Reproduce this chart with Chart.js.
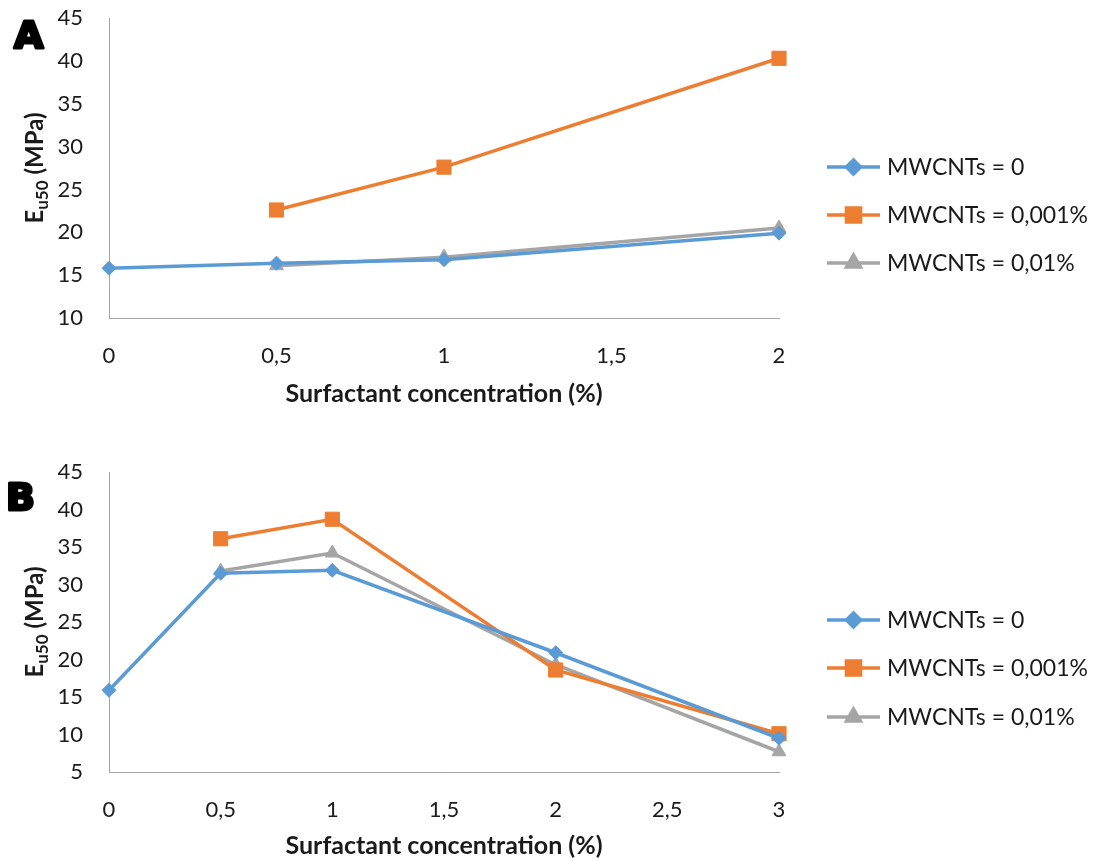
<!DOCTYPE html>
<html><head><meta charset="utf-8">
<script src="https://cdn.jsdelivr.net/npm/chart.js@4.4.0/dist/chart.umd.min.js"></script>
<style>
body{margin:0;background:#fff;width:1096px;height:861px;position:relative;overflow:hidden}
.panel{position:absolute;left:0;width:1096px}
</style></head><body>
<div class="panel" style="top:-24px;height:431px"><canvas id="chartA" width="1096" height="431"></canvas></div>
<div class="panel" style="top:430px;height:431px"><canvas id="chartB" width="1096" height="431"></canvas></div>
<script>
const seriesNames=["MWCNTs = 0","MWCNTs = 0,001%","MWCNTs = 0,01%"];
const colors=["#5B9BD5","#ED7D31","#A5A5A5"];
const shapes=["rectRot","rect","triangle"];
const radii=[7,10,8];

// panel A
const xA=[0,0.5,1,2];
const mw0A=[15.8,16.4,16.8,19.9];
const mw001A=[null,22.6,27.6,40.3];
const mw01A=[null,16.1,17.1,20.5];
const xTicksA=[0,0.5,1,1.5,2];
const yTicksA=[10,15,20,25,30,35,40,45];

// panel B
const xB=[0,0.5,1,2,3];
const mw0B=[15.9,31.5,31.9,20.9,9.5];
const mw001B=[null,36.1,38.7,18.6,10.1];
const mw01B=[null,31.8,34.2,19.3,7.7];
const xTicksB=[0,0.5,1,1.5,2,2.5,3];
const yTicksB=[5,10,15,20,25,30,35,40,45];

const xTitle="Surfactant concentration (%)";
const FONT="Lato";
const TXT="#1a1a1a";

function pts(xs,ys){
let out=[];
xs.forEach((x,i)=>{ if(ys[i]!==null) out.push({x:x,y:ys[i]}); });
return out;
}

function comma(v){ return String(v).replace(".",","); }

const decor={
id:"decor",
afterDraw(chart,args,o){
const ctx=chart.ctx;
const area=chart.chartArea;
ctx.save();
// panel letter
ctx.font="bold 38px 'DejaVu Sans'";
ctx.fillStyle="#000";ctx.strokeStyle="#000";ctx.lineWidth=3;ctx.lineJoin="round";
ctx.textBaseline="alphabetic";ctx.textAlign="left";
ctx.strokeText(o.letter,o.letterX,o.letterY);
ctx.fillText(o.letter,o.letterX,o.letterY);
// x title
ctx.fillStyle=TXT;
ctx.font="bold 25px "+FONT;
ctx.textAlign="center";ctx.textBaseline="middle";
ctx.fillText(xTitle,(area.left+area.right)/2,o.xTitleY);
// y title with subscript
ctx.translate(35,(area.top+area.bottom)/2);
ctx.rotate(-Math.PI/2);
ctx.textAlign="left";ctx.textBaseline="alphabetic";
const big="bold 24px "+FONT, small="bold 17px "+FONT;
ctx.font=big; const wE=ctx.measureText("E").width; const wM=ctx.measureText(" (MPa)").width;
ctx.font=small; const wS=ctx.measureText("u50").width;
let x=-(wE+wS+wM)/2;
ctx.font=big; ctx.fillText("E",x,8); x+=wE;
ctx.font=small; ctx.fillText("u50",x,13); x+=wS;
ctx.font=big; ctx.fillText(" (MPa)",x,8);
ctx.restore();
// legend
ctx.save();
o.legendY.forEach((y,i)=>{
ctx.strokeStyle=colors[i];ctx.lineWidth=3.5;
ctx.beginPath();ctx.moveTo(827,y);ctx.lineTo(880,y);ctx.stroke();
ctx.fillStyle=colors[i];
Chart.helpers.drawPoint(ctx,{pointStyle:shapes[i],radius:radii[i],borderWidth:1},853.5,y);
ctx.fill();
ctx.fillStyle=TXT;ctx.font="23px "+FONT;ctx.textAlign="left";ctx.textBaseline="middle";
ctx.fillText(seriesNames[i],887,y+1);
});
ctx.restore();
}
};

function makeChart(id,xs,series,xTicks,yTicks,pad,deco){
return new Chart(document.getElementById(id),{
type:"line",
data:{
datasets:series.map((ys,i)=>({
label:seriesNames[i],
data:pts(xs,ys),
borderColor:colors[i],
backgroundColor:colors[i],
borderWidth:3.5,
pointStyle:shapes[i],
pointRadius:radii[i],
pointBackgroundColor:colors[i],
pointBorderColor:colors[i],
pointBorderWidth:1,
tension:0,
clip:false
}))
},
options:{
responsive:false,
animation:false,
devicePixelRatio:1,
layout:{padding:pad},
plugins:{legend:{display:false},tooltip:{enabled:false},decor:deco},
scales:{
x:{
type:"linear",
min:xTicks[0],max:xTicks[xTicks.length-1],
afterBuildTicks:s=>{s.ticks=xTicks.map(v=>({value:v}));},
afterFit:s=>{s.height=60;},
grid:{display:false,drawTicks:false},
border:{display:true,color:"#A6A6A6",width:1},
ticks:{padding:25,color:TXT,font:{family:FONT,size:22},callback:v=>comma(v),maxRotation:0,autoSkip:false}
},
y:{
min:yTicks[0],max:yTicks[yTicks.length-1],
afterBuildTicks:s=>{s.ticks=yTicks.map(v=>({value:v}));},
afterFit:s=>{s.width=60;},
grid:{display:false,drawTicks:false},
border:{display:true,color:"#A6A6A6",width:1},
ticks:{padding:26,color:TXT,font:{family:FONT,size:22},callback:v=>comma(v)}
}
}
},
plugins:[decor]
});
}

// canvas A sits 24px above the page top
makeChart("chartA",xA,[mw0A,mw001A,mw01A],xTicksA,yTicksA,
{left:49,top:42,right:317,bottom:29},
{letter:"A",letterX:14,letterY:72,xTitleY:418,legendY:[191,239,287]});

makeChart("chartB",xB,[mw0B,mw001B,mw01B],xTicksB,yTicksB,
{left:49,top:42,right:317,bottom:29},
{letter:"B",letterX:6,letterY:80,xTitleY:416,legendY:[190,238,287]});
</script>
</body></html>
